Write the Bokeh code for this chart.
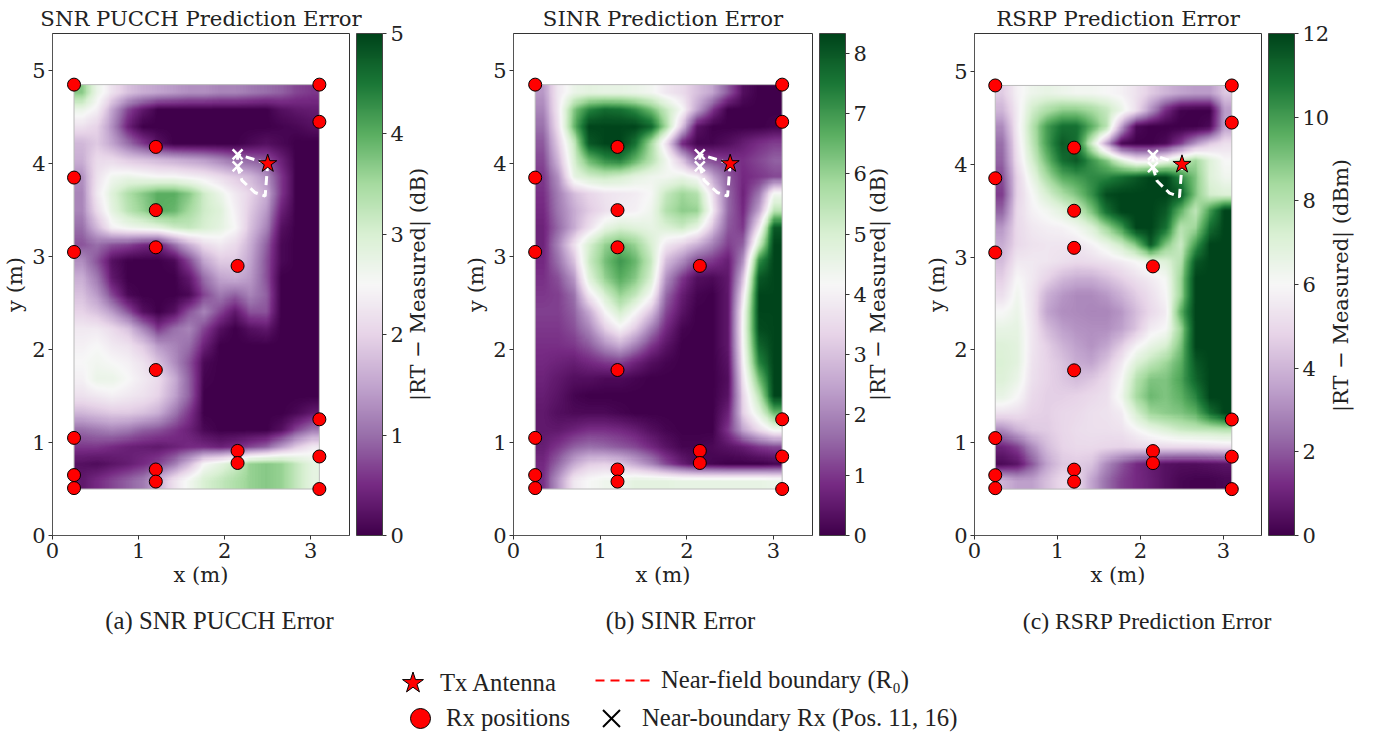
import math
import numpy as np
from bokeh.embed import file_html
from bokeh.resources import INLINE
from bokeh.layouts import column, row
from bokeh.plotting import figure
from bokeh.models import (ColorBar, FixedTicker, Label, Legend, LegendItem, LinearColorMapper, Range1d)

# Rx positions (m)
rx_x = [0.25, 3.1, 3.1, 1.2, 0.25, 1.2, 1.2, 0.25, 2.15, 1.2, 3.1, 0.25, 2.15, 3.1, 2.15, 1.2, 0.25, 1.2, 0.25, 3.1]
rx_y = [4.85, 4.85, 4.45, 4.18, 3.85, 3.5, 3.1, 3.05, 2.9, 1.78, 1.25, 1.05, 0.91, 0.85, 0.78, 0.71, 0.65, 0.58, 0.51, 0.5]
tx_x = [2.5]
tx_y = [4.0]
near_x = [2.15, 2.15]
near_y = [4.1, 3.97]
bound_x = [2.5, 2.15, 2.15, 2.2, 2.35, 2.47, 2.5]
bound_y = [4.0, 4.1, 3.97, 3.82, 3.69, 3.65, 4.0]

# error maps; rows from y=4.85 down to y=0.5, columns x=0.25..3.1
snr_err = [
 [3.7,2.7,2.2,1.8,1.6,1.5,1.4,1.3,1.3,1.2,1.2,1.1,1.0,0.9,0.7,0.6],
 [2.7,2.4,1.5,0.7,0.3,0,0,0,0,0,0,0,0,0.2,0.3,0.35],
 [2.2,2.0,1.3,0.4,0,0,0,0,0,0,0,0,0,0.05,0.1,0.2],
 [1.7,1.9,1.5,1.0,0.6,0.2,0,0,0,0,0,0.1,0.2,0.1,0,0],
 [1.6,2.1,2.1,1.9,1.8,1.7,1.6,1.5,1.4,1.2,1.0,0.9,0.8,0.4,0,0],
 [1.3,2.2,2.6,2.7,2.6,2.5,2.5,2.4,2.3,2.1,1.9,1.7,1.3,0.6,0,0],
 [1.2,2.3,2.9,3.4,3.7,4.0,4.0,3.7,3.1,2.7,2.3,2.0,1.6,0.6,0,0],
 [1.2,2.1,2.8,3.3,3.6,4.0,3.9,3.5,3.1,2.9,2.4,1.9,1.4,0.4,0,0],
 [1.0,1.7,2.4,2.6,2.7,2.8,3.1,3.2,3.0,2.8,2.5,1.8,1.2,0.2,0,0],
 [0.8,1.0,0.8,0.7,0.5,0.4,1.0,1.6,2.1,2.3,2.1,1.6,0.9,0.1,0,0],
 [1.3,0.8,0.2,0,0,0,0.1,0.7,1.5,1.9,1.9,1.5,0.8,0.1,0,0],
 [1.6,1.1,0.3,0,0,0,0,0.3,1.0,1.5,1.6,1.4,0.8,0,0,0],
 [1.8,1.4,0.7,0.1,0,0,0,0.1,0.7,1.1,0.9,1.2,0.9,0,0,0],
 [2.0,1.8,1.4,0.8,0.2,0,0.2,0.8,1.2,0.7,0.3,0.8,0.8,0,0,0],
 [2.3,2.3,2.1,1.8,1.2,0.6,1.0,1.2,0.7,0.2,0,0.2,0.3,0,0,0],
 [2.4,2.5,2.3,2.2,1.9,1.4,1.2,1.0,0.4,0,0,0,0,0,0,0],
 [2.5,2.6,2.5,2.4,2.2,1.8,1.3,0.8,0.1,0,0,0,0,0,0,0],
 [2.4,2.7,2.7,2.5,2.3,2.1,1.6,0.9,0.05,0,0,0,0,0,0,0],
 [2.2,2.3,2.4,2.3,2.2,2.0,1.5,0.9,0,0,0,0,0,0,0,0],
 [1.7,1.8,1.9,1.9,1.8,1.6,1.1,0.6,0,0,0,0,0,0,0.1,0.3],
 [1.0,1.1,1.2,1.1,0.9,0.8,0.6,0.4,0.1,0,0,0,0,0.2,0.7,1.1],
 [0.6,0.6,0.5,0.4,0.35,0.3,0.4,0.5,0.5,0.4,0.5,0.7,0.9,1.4,1.9,2.3],
 [0.2,0.15,0.25,0.35,0.5,0.7,1.1,1.7,2.5,2.8,3.1,3.6,3.7,3.6,3.2,2.8],
 [0.3,0.5,0.7,0.9,1.1,1.6,2.2,2.6,3.0,3.2,3.4,3.6,3.7,3.6,3.2,2.8],
]
sinr_err = [
 [2.3,3.8,4.5,4.7,4.6,4.6,4.5,4.3,3.8,3.5,3.0,2.5,1.4,0.3,0,0],
 [2.0,3.8,6.2,7.3,7.7,7.6,7.2,6.4,5.3,4.2,2.5,1.0,0,0,0,0],
 [1.7,3.6,6.5,8.3,8.3,8.3,8.3,7.8,5.8,3.0,0.4,0,0,0,0,0.1],
 [1.4,3.2,5.3,8.0,8.3,8.3,7.6,5.8,3.6,0.8,0.1,0.1,0.3,0.6,0.9,1.1],
 [1.2,2.8,5.0,6.5,7.2,7.4,6.6,5.6,4.4,3.0,1.4,1.2,1.0,0.9,1.2,1.5],
 [1.0,2.2,4.6,5.1,5.3,5.1,4.7,4.4,4.3,4.5,4.1,2.5,1.4,0.8,1.0,1.2],
 [0.9,1.9,2.9,3.4,3.7,3.8,3.9,4.2,5.3,5.9,5.6,3.6,1.6,0.7,1.8,4.3],
 [0.8,1.8,2.6,3.2,3.6,3.9,4.0,4.4,5.6,6.1,6.0,3.9,1.6,0.8,2.5,5.5],
 [0.7,1.6,2.6,3.6,4.6,5.0,4.8,4.6,4.9,5.2,4.6,3.0,1.4,1.0,3.8,8.0],
 [0.7,2.0,3.6,5.0,6.0,6.4,6.0,5.0,3.8,3.3,2.7,1.9,1.1,1.5,5.2,8.3],
 [0.8,1.7,3.0,5.2,6.3,7.0,6.5,5.3,2.9,2.1,1.2,1.0,0.6,2.2,7.2,8.3],
 [0.9,1.3,2.3,4.8,6.0,6.7,6.2,5.0,2.2,1.0,0.3,0.2,0.5,3.0,8.0,8.3],
 [1.0,1.1,1.7,3.8,5.0,6.0,5.4,4.2,1.6,0.6,0.1,0,0.5,3.7,8.3,8.3],
 [1.1,1.1,1.5,2.6,4.1,5.1,4.2,3.0,1.2,0.4,0,0,0.5,4.2,8.3,8.3],
 [1.0,1.0,1.3,2.0,3.2,4.0,3.2,1.9,0.8,0.1,0,0,0.5,4.3,8.2,8.3],
 [0.9,0.9,1.0,1.4,2.1,2.6,1.9,1.0,0.4,0,0,0,0.5,4.2,7.8,8.3],
 [0.8,0.7,0.6,0.8,1.0,1.1,0.7,0.3,0.1,0,0,0,0.4,4.0,7.3,8.3],
 [0.7,0.5,0.3,0.3,0.2,0.2,0.1,0,0,0,0,0,0.3,3.7,6.4,8.3],
 [0.6,0.4,0.1,0,0,0,0,0,0,0,0,0,0.4,3.4,5.5,8.3],
 [0.5,0.3,0.2,0.2,0.2,0.1,0,0,0,0,0,0,0.7,3.3,4.7,6.5],
 [0.5,0.5,0.7,0.9,0.9,0.8,0.6,0.3,0.1,0,0,0,1.0,2.5,3.5,4.3],
 [0.6,1.0,1.5,1.7,1.6,1.4,1.2,0.8,0.4,0.1,0.1,0.2,0.4,0.6,1.0,1.2],
 [0.8,1.6,2.6,3.2,3.3,3.1,2.6,2.0,1.2,0.6,0.2,0.1,0,0,0,0.1],
 [0.9,2.3,3.8,4.2,4.4,4.4,4.7,4.7,4.7,4.6,4.6,4.6,4.6,4.6,4.6,4.5],
]
rsrp_err = [
 [4.6,5.8,6.4,6.6,6.4,6.2,6.2,6.0,5.8,5.3,4.6,4.0,3.6,3.4,3.4,4.5],
 [4.0,5.6,7.4,8.2,8.8,8.8,8.4,7.7,6.5,5.2,3.2,1.2,0.1,0,0,3.4],
 [3.0,5.6,8.0,10,11,11,9.6,8.0,3.5,0.3,0,0,0,0,0.3,3.5],
 [2.4,5.4,7.8,10,11.5,11,7.5,3.5,0.2,0,0,0.3,1.5,3.2,4.5,5.2],
 [2.2,5.2,7.3,9.3,11,11.5,10.2,9.0,7.0,5.5,5.5,6.3,7.5,8.5,7.0,6.0],
 [1.8,4.8,6.6,8.3,9.6,10,10.4,10.5,11,11.5,12,12,10.5,9.0,7.0,6.3],
 [1.5,4.8,6.0,7.2,8.2,9.0,10.2,11.8,12,12,12,12,11.5,9.0,7.3,7.0],
 [2.2,5.0,5.8,6.2,6.8,7.6,9.0,11,12,12,12,11.5,9.5,7.8,10,12],
 [3.3,5.0,5.5,5.7,5.8,6.2,7.0,8.5,10,12,12,11,8.0,8.5,11,12],
 [3.8,5.0,5.3,5.4,5.4,5.4,5.8,6.5,7.5,9.0,11.5,9.0,7.5,10,12,12],
 [4.2,5.5,5.5,5.4,5.2,5.0,5.1,5.3,5.6,6.0,6.6,7.0,8.0,11.5,12,12],
 [4.7,6.0,5.5,4.8,4.1,3.8,3.8,4.2,4.7,5.2,5.6,6.1,8.5,12,12,12],
 [5.2,6.3,5.3,3.9,3.3,3.0,3.0,3.3,3.9,4.6,5.2,5.9,8.5,12,12,12],
 [6.0,6.5,5.3,3.6,3.1,3.0,2.9,2.9,3.3,4.2,5.0,5.6,9.5,12,12,12],
 [6.6,6.7,5.4,4.2,3.5,3.2,3.1,3.1,3.5,4.4,5.6,6.0,8.5,12,12,12],
 [7.0,6.8,5.4,4.7,4.0,3.5,3.2,3.6,4.6,5.8,6.6,7.2,9.0,12,12,12],
 [7.1,6.8,5.3,4.8,4.4,3.8,3.6,4.4,5.5,7.0,7.8,8.5,9.5,11.5,12,12],
 [7.0,6.5,5.2,4.8,4.5,4.2,4.5,5.0,6.0,8.0,9.0,9.0,9.8,11.2,12,12],
 [6.6,6.0,5.0,4.7,4.7,4.8,5.0,5.2,6.3,8.3,9.3,9.0,9.5,10.5,12,12],
 [5.3,5.2,4.8,4.7,4.9,5.0,5.2,5.3,5.6,7.2,8.5,8.8,9.0,9.5,11,12],
 [3.0,3.9,4.5,4.6,4.9,5.1,5.2,5.2,5.3,5.9,6.5,7.0,7.5,7.7,7.8,8.0],
 [1.0,1.6,3.0,4.2,4.8,5.0,5.0,4.9,4.8,4.9,5.0,5.0,5.0,5.0,5.1,5.2],
 [0.3,0.6,2.0,3.6,4.5,4.6,4.4,3.0,2.0,1.2,0.8,0.5,0.4,0.4,0.5,0.6],
 [4.0,3.5,3.5,4.3,5.0,5.0,3.6,2.4,1.6,1.2,0.9,0.5,0.2,0.1,0.1,0.2],
]

titles = ["SNR PUCCH Prediction Error", "SINR Prediction Error", "RSRP Prediction Error"]
captions = ["(a) SNR PUCCH Error", "(b) SINR Error", "(c) RSRP Prediction Error"]
caption_sizes = ["24.7px", "24.7px", "23.7px"]
cbar_labels = ["|RT \u2212 Measured| (dB)", "|RT \u2212 Measured| (dB)", "|RT \u2212 Measured| (dBm)"]
vmaxes = [5.0, 8.33, 12.0]
cbar_ticks = [[0, 1, 2, 3, 4, 5], [0, 1, 2, 3, 4, 5, 6, 7, 8], [0, 2, 4, 6, 8, 10, 12]]
grids = [snr_err, sinr_err, rsrp_err]
x_tick_vals = [0, 1, 2, 3]
y_tick_vals = [0, 1, 2, 3, 4, 5]

PRGN = ["#40004b", "#762a83", "#9970ab", "#c2a5cf", "#e7d4e8", "#f7f7f7",
        "#d9f0d3", "#a6dba0", "#5aae61", "#1b7837", "#00441b"]


def ramp(stops, n=256):
    rgb = np.array([[int(c[i:i + 2], 16) for i in (1, 3, 5)] for c in stops], dtype=float)
    t = np.linspace(0, len(stops) - 1, n)
    out = np.stack([np.interp(t, np.arange(len(stops)), rgb[:, k]) for k in range(3)], axis=1)
    return ["#%02x%02x%02x" % tuple(int(round(v)) for v in c) for c in out]


def smooth_display(g, k=16):
    """Raster display only, like imshow with bilinear shading: the browser draws cells hard-edged."""
    g = np.asarray(g, dtype=float)
    ny, nx = g.shape
    ys = (np.arange(ny * k) + 0.5) / k - 0.5
    xs = (np.arange(nx * k) + 0.5) / k - 0.5
    a = np.stack([np.interp(xs, np.arange(nx), r) for r in g])
    return np.stack([np.interp(ys, np.arange(ny), c) for c in a.T], axis=1)


palette = ramp(PRGN)
SERIF = "DejaVu Serif"
TIMES = "Liberation Serif"
INK = "#222222"

LAY = [
    dict(w=406, t=33, fh=502, xm=3.45, ym=5.4, m=15, sw=70, lx=26, ly=251),
    dict(w=408, t=33, fh=502, xm=3.45, ym=5.4, m=18, sw=71, lx=26, ly=251),
    dict(w=410, t=33, fh=502, xm=3.458, ym=5.41, m=20, sw=62, lx=28, ly=250),
]
ROW_H = 600
BOT_H = 132


def panel(i):
    L = LAY[i]
    p = figure(width=L["w"], height=ROW_H, min_border_left=44, min_border_top=L["t"], min_border_right=5,
               min_border_bottom=ROW_H - L["t"] - L["fh"],
               x_range=Range1d(0, L["xm"]), y_range=Range1d(0, L["ym"]),
               output_backend="svg", toolbar_location=None, title=titles[i])
    p.title.text_font = SERIF
    p.title.text_font_size = "21.2px"
    p.title.text_font_style = "normal"
    p.title.align = "center"
    p.title.text_color = INK
    p.title.standoff = 6
    p.grid.visible = False
    p.outline_line_color = "#333333"
    p.outline_line_width = 1
    for ax, label, ticks in ((p.xaxis[0], "x (m)", x_tick_vals), (p.yaxis[0], "y (m)", y_tick_vals)):
        ax.axis_label = label
        ax.axis_label_text_font = SERIF
        ax.axis_label_text_font_size = "21px"
        ax.axis_label_text_font_style = "normal"
        ax.axis_label_text_color = INK
        ax.ticker = FixedTicker(ticks=ticks)
        ax.major_label_text_font = SERIF
        ax.major_label_text_font_size = "21px"
        ax.major_label_text_color = INK
        ax.major_tick_out = 4
        ax.major_tick_in = 0
        ax.minor_tick_line_color = None
        ax.axis_line_color = "#555555"
        ax.major_tick_line_color = "#333333"
        ax.axis_label_standoff = 2
        ax.major_label_standoff = 3
    mapper = LinearColorMapper(palette=palette, low=0, high=vmaxes[i])
    grid = np.flipud(smooth_display(grids[i]))
    p.image(image=[grid], x=0.25, y=0.5, dw=2.85, dh=4.35, color_mapper=mapper)
    p.quad(left=[0.25], right=[3.1], bottom=[0.5], top=[4.85], fill_color=None, line_color="#bbbbbb", line_width=1)
    p.line(bound_x, bound_y, line_color="white", line_width=3, line_dash="9 5")
    p.scatter(near_x, near_y, marker="x", size=14, line_color="white", line_width=2.5)
    p.scatter(rx_x, rx_y, marker="circle", size=13, fill_color="red", line_color="black", line_width=1)
    p.scatter(tx_x, tx_y, marker="star", size=19, fill_color="red", line_color="black", line_width=1)
    cb = ColorBar(color_mapper=mapper, ticker=FixedTicker(ticks=cbar_ticks[i]), width=26, height=L["fh"],
                  padding=0, margin=0, location=(7, 0),
                  major_label_text_font=SERIF, major_label_text_font_size="21px", major_label_text_color=INK,
                  major_tick_out=4, major_tick_in=0, major_tick_line_color="#333333",
                  bar_line_color="#444444", bar_line_width=1, label_standoff=4)
    p.add_layout(cb, "right")

    s = figure(width=L["sw"], height=ROW_H, x_range=Range1d(0, 1), y_range=Range1d(0, 1), min_border=0,
               margin=(0, 0, 0, -L["m"]), background_fill_alpha=0, border_fill_alpha=0,
               output_backend="svg", toolbar_location=None, outline_line_color=None)
    s.axis.visible = False
    s.grid.visible = False
    s.add_layout(Label(x=L["lx"], y=L["ly"], x_units="screen", y_units="screen", text=cbar_labels[i],
                       angle=math.pi / 2, text_align="center", text_baseline="middle",
                       text_font=SERIF, text_font_size="21px", text_color=INK))
    return [p, s]


cells = [m for i in range(3) for m in panel(i)]

leg = figure(width=1374, height=BOT_H, x_range=Range1d(0, 1), y_range=Range1d(0, 1),
             output_backend="svg", toolbar_location=None, min_border=0,
             outline_line_color=None)
leg.axis.visible = False
leg.grid.visible = False
for txt, cx, fs in zip(captions, (219, 680, 1147), caption_sizes):
    leg.add_layout(Label(x=cx, y=112, x_units="screen", y_units="screen", text=txt, text_align="center",
                         text_baseline="middle", text_font=TIMES, text_font_size=fs, text_color=INK))
nan = [float("nan")]
r_tx = leg.scatter(nan, nan, marker="star", fill_color="red", line_color="black", line_width=1, size=22)
r_rx = leg.scatter(nan, nan, marker="circle", fill_color="red", line_color="black", line_width=1, size=20)
r_bd = leg.line(nan, nan, line_color="red", line_width=2, line_dash="9 6")
r_nb = leg.scatter(nan, nan, marker="x", line_color="black", line_width=2, size=24)


def add_leg(label, rend, x, y, gw, gh, st):
    l = Legend(items=[LegendItem(label=label, renderers=[rend])], location=(x, y), glyph_width=gw, glyph_height=gh,
               margin=0, padding=0, spacing=0, label_standoff=st, border_line_color=None, background_fill_alpha=0,
               label_text_font=TIMES, label_text_font_size="24.7px", label_text_color=INK, label_height=20)
    leg.add_layout(l, "center")


add_leg("Tx Antenna", r_tx, 385, 22, 55, 55, 0)
add_leg("Rx positions", r_rx, 395, -11, 50, 50, 1)
add_leg("Near-field boundary (R\u2080)", r_bd, 595, 38, 55, 20, 11)
add_leg("Near-boundary Rx (Pos. 11, 16)", r_nb, 581, -16, 60, 60, 1)

layout = column(row(*cells, spacing=0), leg, spacing=0)
open("out.html", "w").write(file_html(layout, INLINE))
